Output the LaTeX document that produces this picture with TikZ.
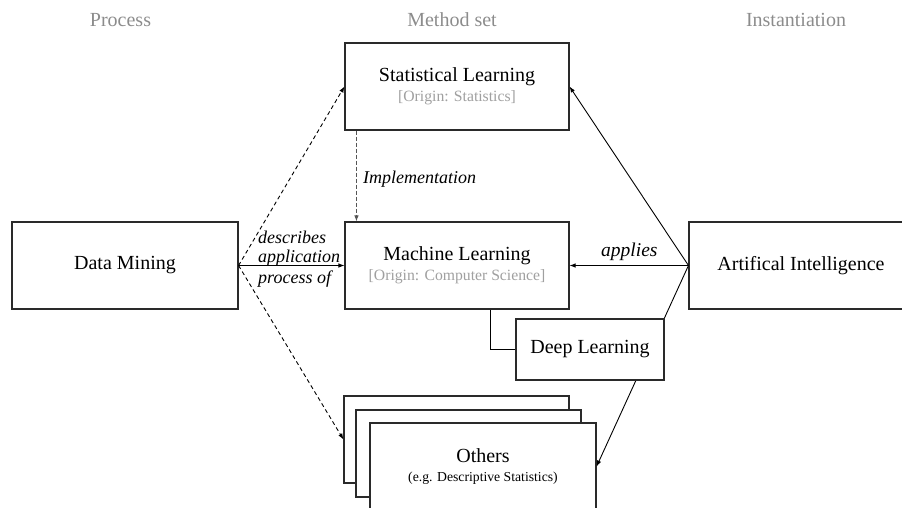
\documentclass[tikz,border=0pt]{standalone}
\usepackage{fontspec}
\setmainfont{Liberation Serif}
\usetikzlibrary{arrows.meta}
\definecolor{hdr}{HTML}{8C8C8C}
\definecolor{subc}{HTML}{A0A0A0}
\definecolor{impl}{HTML}{555555}
\definecolor{edge}{HTML}{2A2A2A}
\newcommand{\subtxt}[1]{{\fontsize{15.7}{17}\selectfont\color{subc}#1}}
\begin{document}
\begin{tikzpicture}[x=1pt,y=-1pt,
  box/.style={draw=edge, line width=1.1pt, fill=white, inner sep=0pt, align=center,
    font=\fontsize{20}{21}\selectfont},
  bigbox/.style={box, minimum width=224pt, minimum height=87pt},
  header/.style={text=hdr, font=\fontsize{20}{22}\selectfont, inner sep=0pt},
  arr/.style={line width=0.9pt, -{Latex[length=6pt,width=4.5pt]}},
  darr/.style={arr, dash pattern=on 4pt off 3pt},
  elabel/.style={font=\fontsize{18}{17.5}\selectfont\itshape, inner sep=0pt}
]
\clip (0,0) rectangle (902,508);
\useasboundingbox (0,0) rectangle (902,508);

% headers
\node[header] (hproc) at (120.5,20) {Process};
\node[header] (hmeth) at (452,20) {Method set};
\node[header] (hinst) at (796,20) {Instantiation};

% main boxes
\node[bigbox, minimum width=226pt] (dm) at (125,265.5) {Data Mining};
\node[bigbox] (sl) at (457,86.5) {Statistical Learning\\[-1pt]\subtxt{[Origin: Statistics]}};
\node[bigbox] (ml) at (457,265.5) {Machine Learning\\[-1pt]\subtxt{[Origin: Computer Science]}};
\node[bigbox] (ai) at (801,265.5) {Artifical Intelligence};

% stacked "others" boxes
\node[bigbox, minimum width=225pt] (o1) at (456.5,439.5) {};
\node[bigbox, minimum width=225pt] (o2) at (468.5,453.5) {};
\node[bigbox, minimum width=226pt] (o3) at (483,466.5) {Others\\[-2pt]{\fontsize{13.7}{15}\selectfont (e.g. Descriptive Statistics)}};

% connectors from Data Mining
\draw[darr] (dm.east) -- (sl.west);
\draw[darr] (dm.east) -- (o1.west);
\draw[arr] (dm.east) -- (ml.west);
\node[elabel, anchor=west, align=left] (dlab) at (258,259) {describes\\[1.5pt]application\\[3pt]process of};

% implementation
\draw[arr, draw=impl, dash pattern=on 4pt off 2pt] ([xshift=12pt]sl.south west) -- ([xshift=12pt]ml.north west);
\node[elabel, anchor=base west] (impl) at (363,183) {Implementation};

% connectors from AI
\draw[arr] (ai.west) -- (sl.east);
\draw[arr] (ai.west) -- (ml.east);
\draw[arr] (ai.west) -- (o3.east);
\node[elabel, font=\fontsize{19.5}{20}\selectfont\itshape, anchor=base west] (appl) at (601,256) {applies};

% deep learning
\node[box, minimum width=148pt, minimum height=61pt] (dl) at (590,349.5) {Deep Learning};
\draw[line width=0.9pt] ([xshift=146pt]ml.south west) |- (dl.west);
\end{tikzpicture}
\end{document}
